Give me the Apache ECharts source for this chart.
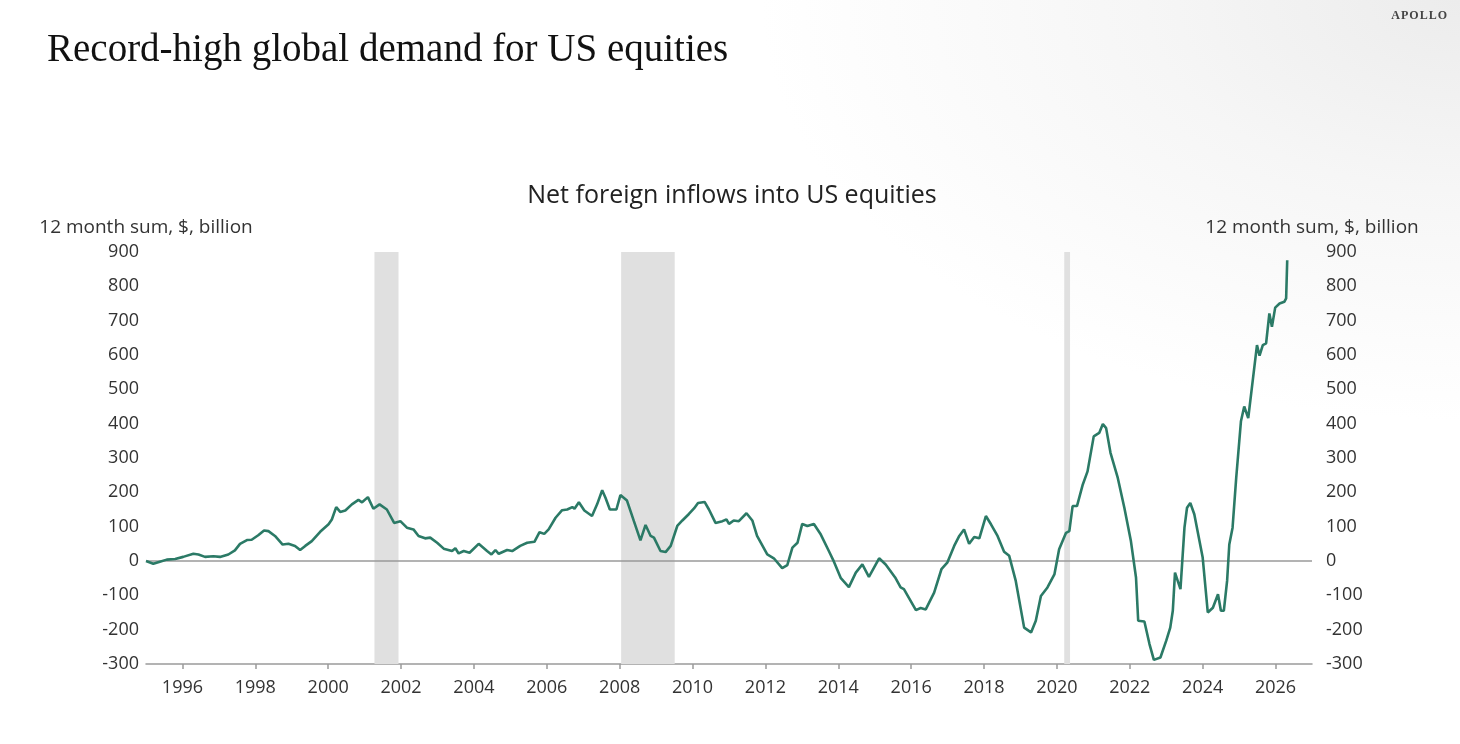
<!DOCTYPE html>
<html>
<head>
<meta charset="utf-8">
<script src="https://cdn.jsdelivr.net/npm/echarts@6/dist/echarts.min.js"></script>
<style>
  html, body { margin: 0; padding: 0; }
  body {
    width: 1460px; height: 744px;
    background: radial-gradient(ellipse 700px 420px at 100% 0%, #ececec 0%, #f6f6f6 45%, #ffffff 100%);
  }
  #chart { width: 1460px; height: 744px; }
</style>
</head>
<body>
<div id="chart"></div>
<script>
var chart = echarts.init(document.getElementById('chart'));

// 12 month sum of net foreign purchases of US equities, $ billion
var years = [
  1995.0, 1995.2, 1995.38, 1995.57, 1995.8, 1996.02, 1996.3, 1996.44, 1996.62, 1996.85,
  1997.03, 1997.26, 1997.44, 1997.58, 1997.77, 1997.9, 1998.08, 1998.24, 1998.36, 1998.54,
  1998.75, 1998.91, 1999.09, 1999.23, 1999.37, 1999.55, 1999.78, 2000.01, 2000.1, 2000.22,
  2000.33, 2000.47, 2000.65, 2000.83, 2000.93, 2001.09, 2001.24, 2001.41, 2001.61, 2001.81,
  2001.98, 2002.16, 2002.34, 2002.48, 2002.66, 2002.8, 2002.99, 2003.17, 2003.4, 2003.49,
  2003.58, 2003.72, 2003.88, 2004.13, 2004.36, 2004.48, 2004.59, 2004.68, 2004.91, 2005.05,
  2005.27, 2005.46, 2005.66, 2005.8, 2005.93, 2006.05, 2006.24, 2006.42, 2006.56, 2006.7,
  2006.76, 2006.88, 2007.03, 2007.24, 2007.38, 2007.52, 2007.61, 2007.73, 2007.91, 2008.02,
  2008.2, 2008.39, 2008.57, 2008.71, 2008.85, 2008.94, 2009.12, 2009.26, 2009.4, 2009.58,
  2009.72, 2009.9, 2010.04, 2010.15, 2010.33, 2010.45, 2010.63, 2010.82, 2010.93, 2011.0,
  2011.13, 2011.27, 2011.48, 2011.64, 2011.77, 2012.05, 2012.23, 2012.46, 2012.6, 2012.74,
  2012.88, 2013.01, 2013.15, 2013.33, 2013.52, 2013.74, 2013.88, 2014.07, 2014.29, 2014.48,
  2014.66, 2014.84, 2015.12, 2015.3, 2015.56, 2015.71, 2015.8, 2016.13, 2016.26, 2016.4,
  2016.63, 2016.83, 2016.99, 2017.18, 2017.32, 2017.45, 2017.59, 2017.73, 2017.87, 2018.05,
  2018.19, 2018.37, 2018.55, 2018.69, 2018.87, 2019.1, 2019.29, 2019.42, 2019.56, 2019.74,
  2019.93, 2020.06, 2020.25, 2020.34, 2020.43, 2020.55, 2020.71, 2020.84, 2021.01, 2021.16,
  2021.26, 2021.35, 2021.47, 2021.67, 2021.85, 2022.03, 2022.17, 2022.23, 2022.4, 2022.54,
  2022.66, 2022.84, 2023.0, 2023.11, 2023.18, 2023.24, 2023.39, 2023.5, 2023.57, 2023.66,
  2023.77, 2024.0, 2024.14, 2024.28, 2024.42, 2024.5, 2024.58, 2024.67, 2024.73, 2024.82,
  2024.92, 2025.05, 2025.14, 2025.25, 2025.3, 2025.49, 2025.56, 2025.65, 2025.74, 2025.83,
  2025.9, 2025.99, 2026.11, 2026.24, 2026.29, 2026.32
];
var flows = [
  0, -8, -2, 4, 6, 12, 21, 19, 12, 14,
  12, 19, 31, 50, 61, 62, 75, 89, 87, 73,
  48, 50, 44, 32, 44, 58, 85, 107, 121, 157,
  143, 147, 165, 178, 171, 186, 152, 165, 150, 111,
  116, 97, 92, 73, 66, 68, 53, 36, 29, 37,
  22, 29, 24, 50, 29, 19, 32, 21, 32, 29,
  44, 53, 56, 84, 79, 92, 126, 148, 150, 157,
  152, 171, 147, 131, 165, 206, 184, 150, 150, 192,
  176, 116, 60, 105, 73, 68, 29, 26, 44, 102,
  118, 137, 153, 169, 172, 150, 111, 116, 121, 108,
  118, 116, 139, 118, 73, 19, 8, -21, -12, 39,
  53, 108, 102, 108, 77, 29, -2, -50, -76, -34,
  -10, -46, 8, -10, -48, -77, -82, -143, -137, -141,
  -92, -24, -5, 44, 73, 92, 50, 70, 66, 131,
  107, 73, 27, 15, -58, -194, -208, -174, -102, -77,
  -39, 34, 82, 87, 160, 160, 223, 261, 363, 373,
  399, 387, 315, 242, 155, 58, -48, -174, -176, -242,
  -288, -281, -232, -194, -145, -34, -82, 97, 155, 169,
  136, 10, -150, -136, -97, -145, -145, -58, 48, 97,
  242, 407, 450, 416, 416, 629, 598, 629, 634, 721,
  682, 738, 750, 755, 765, 876
];

// US recessions (shaded)
var recessionStart = [2001.27, 2008.04, 2020.2];
var recessionEnd = [2001.93, 2009.51, 2020.36];

var xTicks = [1996, 1998, 2000, 2002, 2004, 2006, 2008, 2010, 2012, 2014, 2016, 2018, 2020, 2022, 2024, 2026];

var seriesData = years.map(function (y, i) { return [y, flows[i]]; });
var bands = recessionStart.map(function (s, i) {
  return [{ xAxis: s }, { xAxis: recessionEnd[i] }];
});

var sans = '"Open Sans", "Noto Sans", sans-serif';
var txt = '#333333';

var yAxisBase = {
  type: 'value',
  min: -300,
  max: 900,
  interval: 100,
  name: '12 month sum, $, billion',
  nameLocation: 'end',
  nameGap: 15,
  nameTextStyle: { color: txt, fontFamily: sans, fontSize: 19, align: 'center' },
  axisLine: { show: false },
  axisTick: { show: false },
  splitLine: { show: false },
  axisLabel: { color: txt, fontFamily: sans, fontSize: 18 }
};

option = {
  animation: false,
  backgroundColor: 'transparent',
  title: [
    {
      text: 'Record-high global demand for US equities',
      left: 42,
      top: 26,
      textStyle: { fontFamily: '"Liberation Serif", "DejaVu Serif", serif', fontWeight: 'normal', fontSize: 39, color: '#111' }
    },
    {
      text: 'Net foreign inflows into US equities',
      left: 727,
      top: 178,
      textAlign: 'center',
      textStyle: { fontFamily: sans, fontWeight: 'normal', fontSize: 25, color: '#222' }
    },
    {
      text: 'A\u200aP\u200aO\u200aL\u200aL\u200aO',
      right: 8,
      top: 5,
      textStyle: { fontFamily: '"Liberation Serif", serif', fontWeight: 'bold', fontSize: 12, color: '#444' }
    }
  ],
  grid: {
    left: 146,
    right: 148,
    top: 252,
    bottom: 80,
    containLabel: false
  },
  xAxis: {
    type: 'value',
    min: 1995,
    max: 2027,
    splitLine: { show: false },
    axisLine: { show: true, onZero: false, lineStyle: { color: '#9a9a9a', width: 1.5 } },
    axisTick: { show: true, length: 5, customValues: xTicks, lineStyle: { color: '#9a9a9a', width: 1.5 } },
    axisLabel: {
      customValues: xTicks,
      formatter: function (v) { return String(v); },
      color: txt, fontFamily: sans, fontSize: 18, margin: 15
    }
  },
  yAxis: [
    Object.assign({}, yAxisBase, {
      position: 'left',
      axisLabel: Object.assign({}, yAxisBase.axisLabel, { margin: 7 })
    }),
    Object.assign({}, yAxisBase, {
      position: 'right',
      axisLabel: Object.assign({}, yAxisBase.axisLabel, { margin: 14 })
    })
  ],
  series: [
    {
      name: 'Net foreign inflows',
      type: 'line',
      data: seriesData,
      showSymbol: false,
      symbol: 'none',
      lineStyle: { color: '#2b7a66', width: 2.6 },
      itemStyle: { color: '#2b7a66' },
      z: 5,
      markArea: {
        silent: true,
        itemStyle: { color: '#e0e0e0' },
        data: bands
      },
      markLine: {
        silent: true,
        symbol: ['none', 'none'],
        label: { show: false },
        lineStyle: { color: '#9a9a9a', width: 1.5, type: 'solid' },
        data: [{ yAxis: 0 }]
      }
    }
  ]
};

option && chart.setOption(option);
</script>
</body>
</html>
